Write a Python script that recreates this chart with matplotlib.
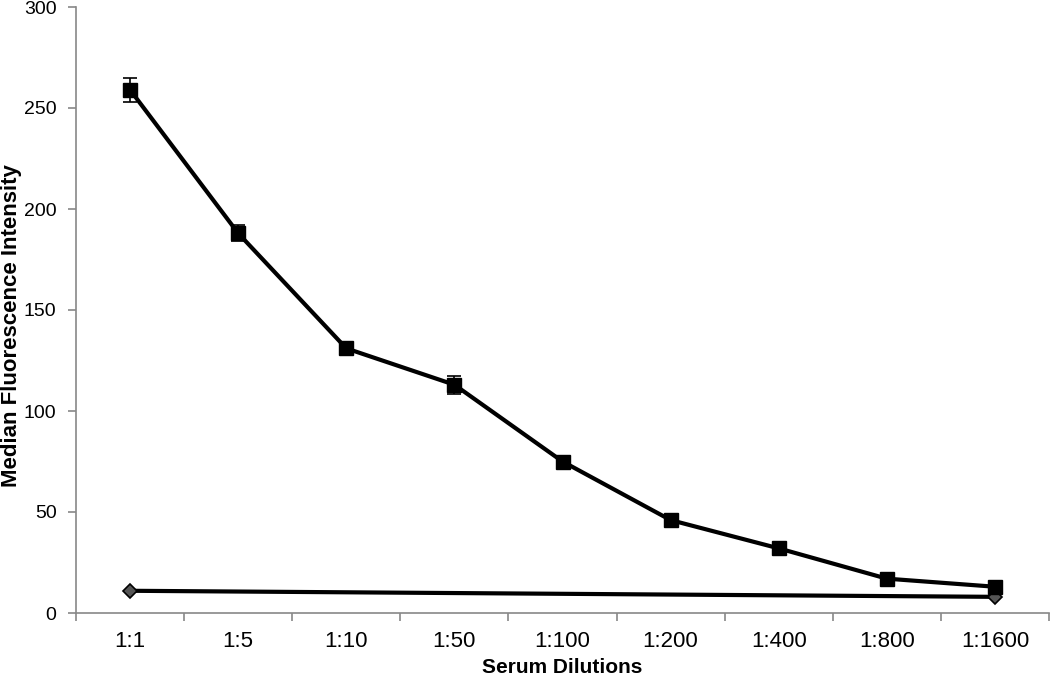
import matplotlib.pyplot as plt

plt.rcParams['font.family'] = ['Liberation Sans', 'DejaVu Sans']

dilutions = ['1:1', '1:5', '1:10', '1:50', '1:100', '1:200', '1:400', '1:800', '1:1600']
mfi = [259, 188, 131, 113, 75, 46, 32, 17, 13]
mfi_err = [6, 4, 2, 4.5, 2, 2, 2, 2, 2]
ctrl_idx = [0, 8]
ctrl = [11, 8]

x = list(range(len(dilutions)))

fig = plt.figure(figsize=(10.5, 6.81), dpi=100)
ax = fig.add_axes([76 / 1050, 68 / 681, 973 / 1050, 606 / 681])

ax.plot(ctrl_idx, ctrl, color='black', lw=3, marker='D', ms=7,
        mfc='#555555', mec='black', mew=1.2, zorder=2)
ax.errorbar(x, mfi, yerr=mfi_err, color='black', lw=3, marker='s', ms=10,
            ecolor='black', elinewidth=1.2, capsize=5, capthick=1.2, zorder=3)

ax.set_xlim(-0.5, len(dilutions) - 0.5)
ax.set_ylim(0, 300)
ax.set_yticks(range(0, 301, 50))
ax.set_xticks(x)
ax.set_xticklabels(dilutions)
ax.set_xticks([i + 0.5 for i in range(-1, len(dilutions))], minor=True)
ax.tick_params(axis='x', which='major', length=0, pad=13, labelsize=16)
ax.tick_params(axis='x', which='minor', length=6, color='#888888', width=1.2)
ax.tick_params(axis='y', length=6, color='#888888', width=1.2, labelsize=14, pad=8)

for s in ['top', 'right']:
    ax.spines[s].set_visible(False)
for s in ['left', 'bottom']:
    ax.spines[s].set_color('#888888')
    ax.spines[s].set_linewidth(1.2)

ax.set_xlabel('Serum Dilutions', fontsize=15, fontweight='bold', labelpad=4)
ax.set_ylabel('Median Fluorescence Intensity', fontsize=16, fontweight='bold')
ax.yaxis.set_label_coords(-0.056, 0.475)

fig.savefig('out.png', dpi=100)
